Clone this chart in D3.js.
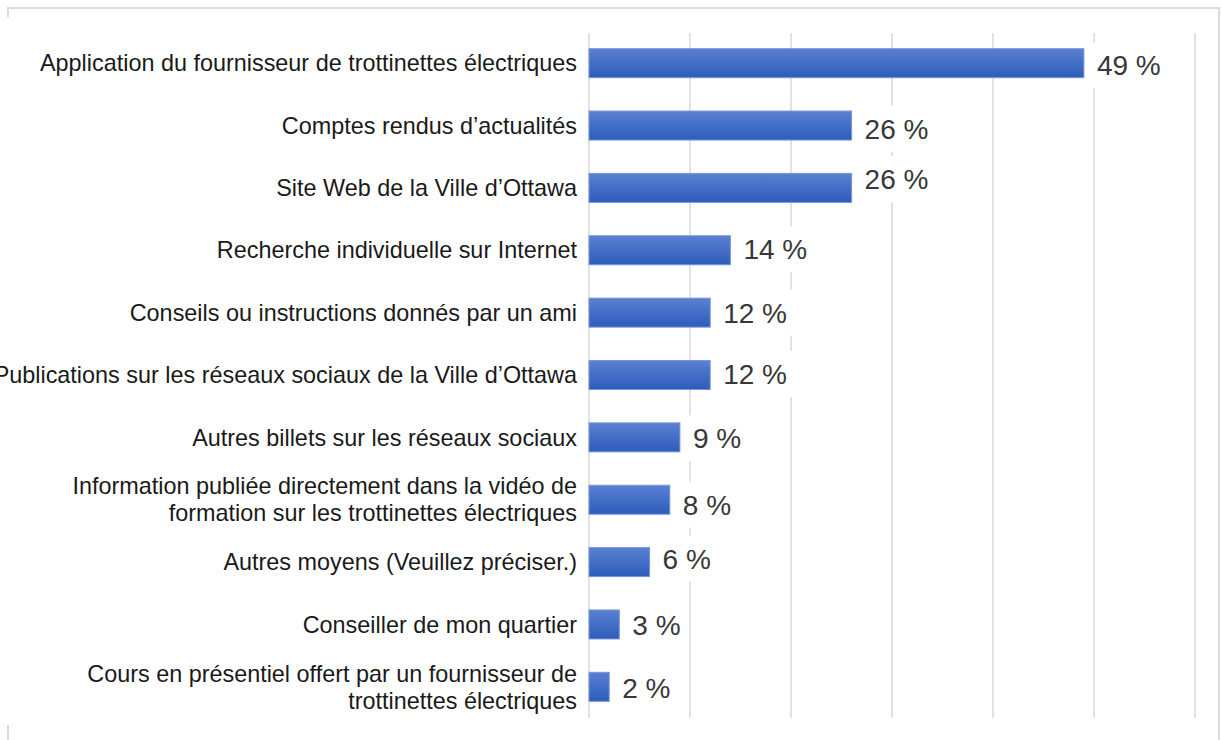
<!DOCTYPE html>
<html>
<head>
<meta charset="utf-8">
<script src="https://cdn.jsdelivr.net/npm/d3@7"></script>
<style>
  html, body { margin: 0; padding: 0; background: #ffffff; }
  svg { display: block; font-family: "Liberation Sans", Arial, sans-serif; }
</style>
</head>
<body>
<svg id="chart" width="1221" height="740"></svg>
<script>
// ---- data ----
const categories = [
  "Application du fournisseur de trottinettes électriques",
  "Comptes rendus d’actualités",
  "Site Web de la Ville d’Ottawa",
  "Recherche individuelle sur Internet",
  "Conseils ou instructions donnés par un ami",
  "Publications sur les réseaux sociaux de la Ville d’Ottawa",
  "Autres billets sur les réseaux sociaux",
  "Information publiée directement dans la vidéo de\nformation sur les trottinettes électriques",
  "Autres moyens (Veuillez préciser.)",
  "Conseiller de mon quartier",
  "Cours en présentiel offert par un fournisseur de\ntrottinettes électriques"
];
const values = [49, 26, 26, 14, 12, 12, 9, 8, 6, 3, 2];
const valueLabels = ["49 %", "26 %", "26 %", "14 %", "12 %", "12 %", "9 %", "8 %", "6 %", "3 %", "2 %"];
const tickValues = [0, 10, 20, 30, 40, 50, 60];

// ---- layout (not data) ----
const labelNudge = [2, 3, -9, -1, 0, -1, 1, 5, -3, 0, 1.5];

const svg = d3.select("#chart");

const defs = svg.append("defs");
const grad = defs.append("linearGradient")
  .attr("id", "barGrad").attr("x1", 0).attr("y1", 0).attr("x2", 0).attr("y2", 1);
grad.append("stop").attr("offset", "0%").attr("stop-color", "#5a80d2");
grad.append("stop").attr("offset", "100%").attr("stop-color", "#2d5cbb");

// outer frame
const frame = svg.append("g").attr("fill", "none").attr("stroke", "#dcdcdc").attr("stroke-width", 2);
frame.append("path").attr("d", "M8,17 L8,8 L1219,8 L1219,740");
frame.append("path").attr("d", "M8,725 L8,740");

const x = d3.scaleLinear().domain([0, 60]).range([589, 1195]);
const y = d3.scaleBand().domain(d3.range(categories.length))
  .range([32, 718]).paddingInner(0.535).paddingOuter(0.2675);

// gridlines
svg.append("g").selectAll("line").data(tickValues).join("line")
  .attr("x1", d => x(d)).attr("x2", d => x(d))
  .attr("y1", 33).attr("y2", 718)
  .attr("stroke", "#d9d9d9").attr("stroke-width", 1.5);

// value labels with white backing boxes
const vg = svg.append("g");
values.forEach((v, i) => {
  const g = vg.append("g");
  const cy = y(i) + y.bandwidth() / 2 + labelNudge[i];
  const rect = g.append("rect").attr("fill", "#ffffff");
  const t = g.append("text")
    .attr("x", x(v) + 13)
    .attr("y", cy)
    .attr("dy", "0.36em")
    .attr("font-size", 28)
    .attr("fill", "#383838")
    .text(valueLabels[i]);
  const w = t.node().getComputedTextLength();
  rect.attr("x", x(v) + 9).attr("y", cy - 23).attr("width", w + 10).attr("height", 46);
});

// bars
svg.append("g").selectAll("rect").data(values).join("rect")
  .attr("x", x(0))
  .attr("y", (d, i) => y(i))
  .attr("width", d => x(d) - x(0))
  .attr("height", y.bandwidth())
  .attr("fill", "url(#barGrad)")
  .attr("stroke", "#7896d8")
  .attr("stroke-width", 1);

// category labels
const cg = svg.append("g").attr("text-anchor", "end").attr("font-size", 23.4).attr("fill", "#1a1a1a");
categories.forEach((c, i) => {
  const lines = c.split("\n");
  const cy = y(i) + y.bandwidth() / 2;
  const lh = 27;
  const t = cg.append("text").attr("x", 577);
  lines.forEach((ln, k) => {
    t.append("tspan")
      .attr("x", 577)
      .attr("y", cy + (k - (lines.length - 1) / 2) * lh)
      .attr("dy", "0.35em")
      .text(ln);
  });
});
</script>
</body>
</html>
